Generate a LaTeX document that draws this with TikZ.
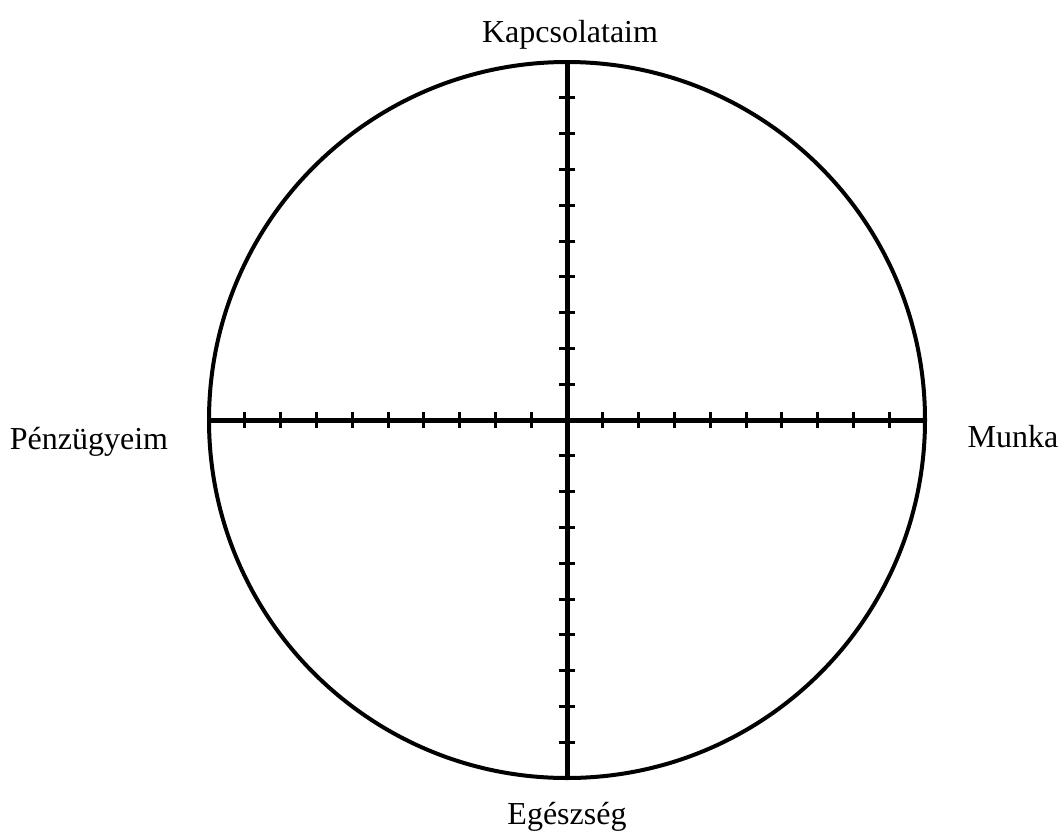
\documentclass[tikz,border=0pt]{standalone}
\usepackage{fontspec}
\setmainfont{Liberation Serif}
\usetikzlibrary{calc}
\begin{document}
\begin{tikzpicture}[x=1pt,y=-1pt,
  lbl/.style={font=\fontsize{32}{38}\selectfont, anchor=base, inner sep=0pt},
  rim/.style={line width=4pt},
  axis/.style={line width=5pt},
  tick/.style={line width=3pt}]
\useasboundingbox (0,0) rectangle (1060,830);
\coordinate (c) at (567,420);
\coordinate (l) at (209,420);
\coordinate (r) at (925,420);
\coordinate (t) at (567,62);
\coordinate (b) at (567,778);
\draw[rim] (c) circle[radius=358];
\draw[axis] (l) -- (r);
\draw[axis] (t) -- (b);
\foreach \i in {1,...,9}{
  \draw[tick] ($(c)+(\i*35.8,-8)$) -- ++(0,16);
  \draw[tick] ($(c)+(-\i*35.8,-8)$) -- ++(0,16);
  \draw[tick] ($(c)+(-8,\i*35.8)$) -- ++(16,0);
  \draw[tick] ($(c)+(-8,-\i*35.8)$) -- ++(16,0);
}
\node[lbl] (kap) at (570,42) {Kapcsolataim};
\node[lbl] (pen) at (89,449) {Pénzügyeim};
\node[lbl] (mun) at (1013,447) {Munka};
\node[lbl] (egs) at (567,824) {Egészség};
\end{tikzpicture}
\end{document}
